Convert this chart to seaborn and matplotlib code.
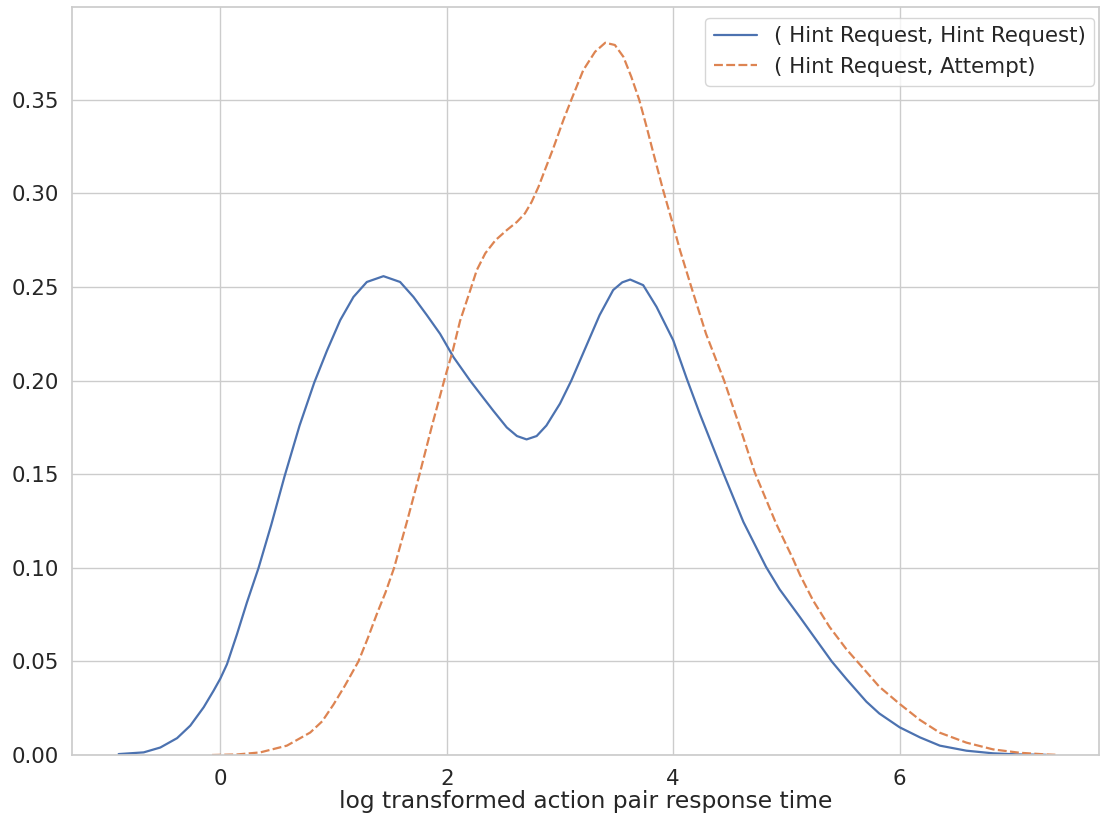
import numpy as np
import pandas as pd
import matplotlib
matplotlib.use("Agg")
import matplotlib.pyplot as plt
import seaborn as sns

# ---- data ----
labels = ["( Hint Request, Hint Request)", "( Hint Request, Attempt)"]

hh_x = [-0.898, -0.677, -0.53, -0.382, -0.265, -0.147, -0.059, 0.0, 0.059, 0.147, 0.235,
        0.338, 0.45, 0.568, 0.70, 0.83, 0.942, 1.059, 1.176, 1.294, 1.441, 1.588, 1.706,
        1.824, 1.941, 2.059, 2.206, 2.295, 2.41, 2.53, 2.62, 2.705, 2.794, 2.88, 3.0,
        3.10, 3.235, 3.35, 3.47, 3.55, 3.62, 3.735, 3.853, 4.0, 4.12, 4.235, 4.44, 4.62,
        4.82, 4.94, 5.12, 5.236, 5.40, 5.53, 5.706, 5.82, 6.0, 6.18, 6.355, 6.59, 6.825,
        7.05, 7.29]
hh_y = [0.0005, 0.0014, 0.004, 0.009, 0.0157, 0.0255, 0.0344, 0.0408, 0.0485, 0.0645,
        0.0815, 0.100, 0.123, 0.149, 0.176, 0.199, 0.216, 0.2323, 0.2447, 0.2527, 0.2558,
        0.2527, 0.2447, 0.235, 0.225, 0.2126, 0.200, 0.193, 0.184, 0.175, 0.1704, 0.1686,
        0.1704, 0.176, 0.1877, 0.200, 0.2189, 0.235, 0.2484, 0.2525, 0.254, 0.251, 0.2394,
        0.2216, 0.201, 0.1823, 0.151, 0.1245, 0.1005, 0.0885, 0.0736, 0.0638, 0.050,
        0.0406, 0.0285, 0.0222, 0.0148, 0.0094, 0.005, 0.0023, 0.0009, 0.0003, 0.0001]

ha_x = [-0.073, 0.15, 0.353, 0.588, 0.794, 0.90, 1.0, 1.10, 1.22, 1.30, 1.383, 1.46,
        1.535, 1.65, 1.76, 1.87, 1.986, 2.053, 2.118, 2.206, 2.265, 2.34, 2.43, 2.53,
        2.62, 2.69, 2.75, 2.81, 2.87, 2.94, 3.03, 3.10, 3.206, 3.31, 3.40, 3.485, 3.56,
        3.63, 3.70, 3.765, 3.81, 3.91, 4.0, 4.06, 4.16, 4.29, 4.45, 4.59, 4.72, 4.91,
        5.06, 5.12, 5.236, 5.38, 5.53, 5.68, 5.82, 6.0, 6.18, 6.355, 6.59, 6.825, 7.06,
        7.295, 7.38]
ha_y = [0.0, 0.0003, 0.0014, 0.005, 0.012, 0.018, 0.027, 0.037, 0.050, 0.062, 0.0754,
        0.087, 0.100, 0.125, 0.150, 0.176, 0.202, 0.216, 0.232, 0.248, 0.259, 0.268,
        0.275, 0.2804, 0.2848, 0.2893, 0.2955, 0.3035, 0.313, 0.324, 0.3392, 0.350,
        0.3659, 0.3757, 0.3805, 0.3793, 0.373, 0.3623, 0.350, 0.3356, 0.325, 0.302,
        0.283, 0.2697, 0.250, 0.225, 0.200, 0.175, 0.151, 0.1235, 0.1045, 0.0962, 0.0825,
        0.0685, 0.0565, 0.0462, 0.0365, 0.0273, 0.0187, 0.0119, 0.0066, 0.003, 0.0012,
        0.0003, 0.0001]

y_ticks = [0.0, 0.05, 0.10, 0.15, 0.20, 0.25, 0.30, 0.35]
x_ticks = [0, 2, 4, 6]

df = pd.concat([
    pd.DataFrame({"x": hh_x, "density": hh_y, "pair": labels[0]}),
    pd.DataFrame({"x": ha_x, "density": ha_y, "pair": labels[1]}),
], ignore_index=True)

sns.set_theme(style="whitegrid", context="notebook", font_scale=1.4)

fig = plt.figure(figsize=(11, 8.14), dpi=100)
ax = fig.add_axes([72 / 1100, 1 - 755 / 814, 1 - 72 / 1100 - 0.001, (755 - 7) / 814])

sns.lineplot(data=df, x="x", y="density", hue="pair", style="pair",
             hue_order=labels, style_order=labels, sort=False,
             estimator=None, ax=ax, linewidth=1.6)

ax.set_xlim(-1.31, 7.76)
ax.set_ylim(0, 0.3996)
ax.set_xticks(x_ticks)
ax.set_yticks(y_ticks)
ax.set_yticklabels([f"{v:.2f}" for v in y_ticks])
ax.tick_params(axis="x", pad=4)
ax.set_xlabel("log transformed action pair response time", labelpad=1)
ax.set_ylabel("")

sns.move_legend(ax, "upper right", title=None, bbox_to_anchor=(1.006, 1.0))

fig.savefig("out.png", dpi=100)
